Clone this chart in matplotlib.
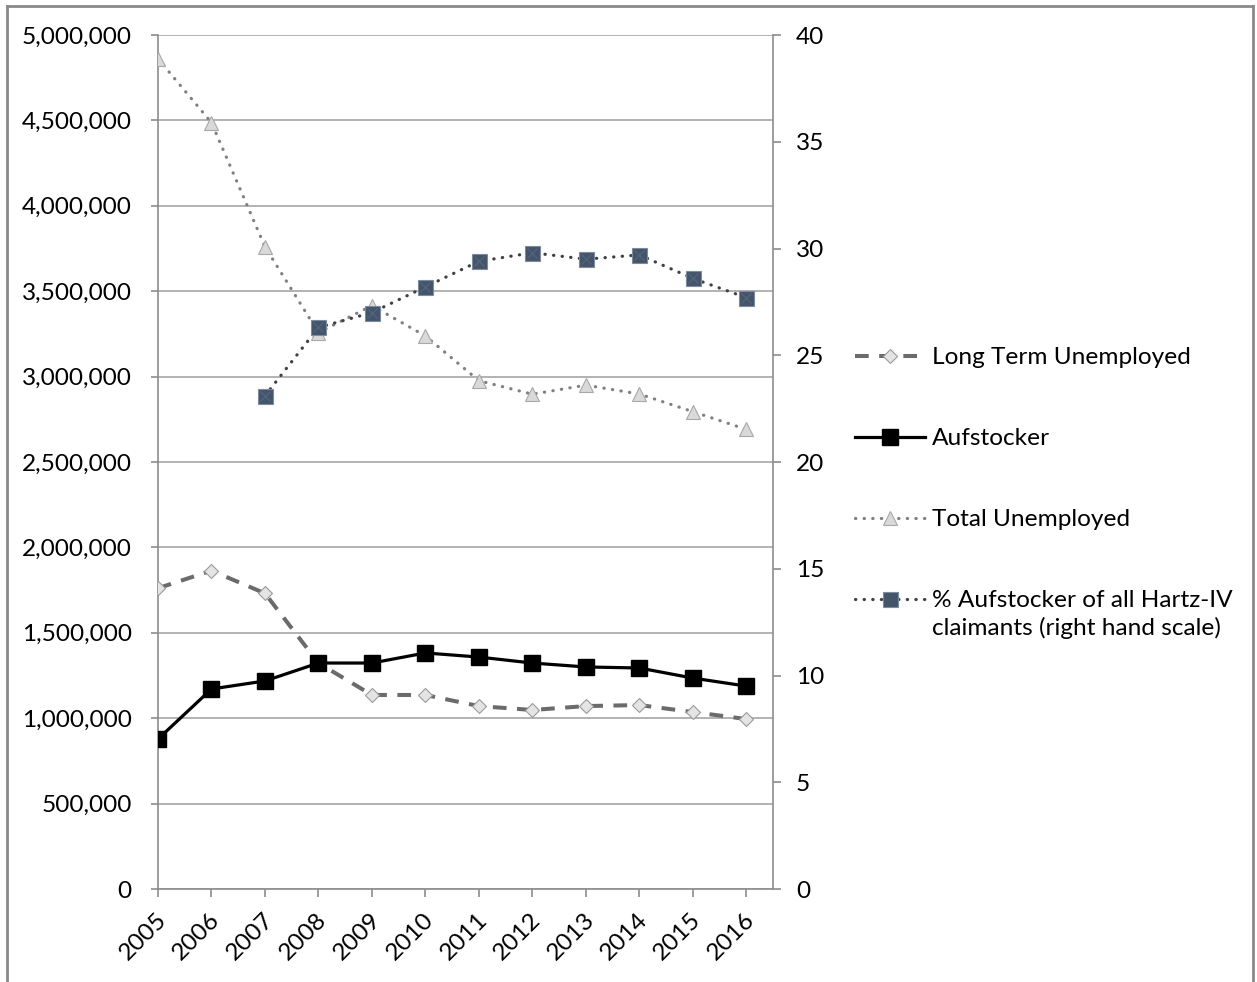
import numpy as np
import matplotlib
matplotlib.use("Agg")
import matplotlib.pyplot as plt
import matplotlib.transforms as mtransforms
from matplotlib.ticker import FuncFormatter, MultipleLocator
from matplotlib.lines import Line2D

# ---- data ----
years = ["2005", "2006", "2007", "2008", "2009", "2010",
         "2011", "2012", "2013", "2014", "2015", "2016"]
long_term_unemployed = [1761000, 1864000, 1731000, 1323000, 1136000, 1136000,
                        1071000, 1048000, 1071000, 1077000, 1036000, 995000]
aufstocker = [878000, 1171000, 1218000, 1323000, 1323000, 1382000,
              1358000, 1323000, 1300000, 1294000, 1235000, 1188000]
total_unemployed = [4861000, 4487000, 3760000, 3258000, 3415000, 3238000,
                    2976000, 2897000, 2950000, 2898000, 2795000, 2691000]
pct_aufstocker = [np.nan, np.nan, 23.1, 26.3, 27.0, 28.2,
                  29.4, 29.8, 29.5, 29.7, 28.6, 27.7]

labels = ["Long Term Unemployed", "Aufstocker", "Total Unemployed",
          "% Aufstocker of all Hartz-IV\nclaimants (right hand scale)"]

# ---- styling ----
plt.rcParams["font.family"] = ["Lato", "DejaVu Sans"]
FS = 17.6
AXIS_GREY = "#8c8c8c"
GRID_GREY = "#a6a6a6"

W, H = 1257, 982
fig = plt.figure(figsize=(W / 100, H / 100), dpi=100)
fig.patch.set_facecolor("white")

left, right, top, bottom = 158, 773, 35, 889
ax = fig.add_axes([left / W, 1 - bottom / H, (right - left) / W, (bottom - top) / H])
ax2 = ax.twinx()

x = np.arange(len(years))

dotted = (0, (0.1, 2.6))

l_ltu, = ax.plot(x, long_term_unemployed, color="#6b6b6b", lw=2.9,
                 linestyle=(0, (3.4, 2.6)), dash_capstyle="butt",
                 marker="D", markersize=7.6, markerfacecolor="#e4e4e4",
                 markeredgecolor="#9a9a9a", markeredgewidth=0.8, zorder=3)
l_auf, = ax.plot(x, aufstocker, color="black", lw=2.3,
                 marker="s", markersize=11, markerfacecolor="black",
                 markeredgecolor="black", zorder=4)
l_tot, = ax.plot(x, total_unemployed, color="#808080", lw=2.3,
                 linestyle=dotted, dash_capstyle="round",
                 marker="^", markersize=10.5, markerfacecolor="#d9d9d9",
                 markeredgecolor="#a8a8a8", markeredgewidth=0.8, zorder=3)
l_pct, = ax2.plot(x, pct_aufstocker, color="#404040", lw=2.3,
                  linestyle=dotted, dash_capstyle="round",
                  marker="s", markersize=10.8, markerfacecolor="#44546a",
                  markeredgecolor="#7d8ba0", markeredgewidth=0.8, zorder=5)
ax2.plot(x, pct_aufstocker, linestyle="none", marker="x", markersize=7.5,
         markeredgecolor="#56667d", markeredgewidth=0.8, zorder=6)

# ---- axes ----
ax.set_xlim(0, 11.5)
ax.set_ylim(0, 5000000)
ax2.set_ylim(0, 40)
ax.yaxis.set_major_locator(MultipleLocator(500000))
ax2.yaxis.set_major_locator(MultipleLocator(5))
ax.yaxis.set_major_formatter(FuncFormatter(lambda v, p: f"{int(round(v)):,}"))
ax2.yaxis.set_major_formatter(FuncFormatter(lambda v, p: f"{int(round(v))}"))

ax.set_xticks(x)
ax.set_xticklabels(years)
ax.grid(axis="y", color=GRID_GREY, lw=1.2)
ax.set_axisbelow(True)

for a in (ax, ax2):
    for s in a.spines.values():
        s.set_visible(False)
ax.spines["left"].set_visible(True)
ax.spines["bottom"].set_visible(True)
ax2.spines["right"].set_visible(True)
for s in (ax.spines["left"], ax.spines["bottom"], ax2.spines["right"]):
    s.set_color(AXIS_GREY)
    s.set_linewidth(1.2)

ax.tick_params(axis="y", direction="out", length=5, width=1.2, color=AXIS_GREY,
               labelsize=FS, pad=14)
ax.tick_params(axis="x", direction="out", length=5.5, width=1.2, color=AXIS_GREY,
               labelsize=FS, pad=4)
ax2.tick_params(axis="y", direction="out", length=5.5, width=1.2, color=AXIS_GREY,
                labelsize=FS, pad=11)

shift = mtransforms.ScaledTranslation(5 / 100, -14 / 100, fig.dpi_scale_trans)
for lab in ax.get_xticklabels():
    lab.set_rotation(45)
    lab.set_ha("right")
    lab.set_va("center")
    lab.set_rotation_mode("anchor")
    lab.set_transform(lab.get_transform() + shift)

# ---- legend ----
leg = fig.legend([l_ltu, l_auf, l_tot, l_pct], labels,
                 loc="upper left", bbox_to_anchor=(855 / W, 1 - 347 / H),
                 frameon=False, fontsize=FS, handlelength=2.85,
                 handletextpad=0.28, labelspacing=2.45,
                 borderpad=0, borderaxespad=0)
leg.texts[-1].set_linespacing(1.32)
last = leg.legend_handles[-1]
last.set_ydata(np.asarray(last.get_ydata()) + 11.3)

# ---- outer frame ----
frame_kw = dict(transform=fig.transFigure, color="#8a8a8a", lw=2)
fig.add_artist(Line2D([7 / W, 1253 / W], [1 - 6 / H, 1 - 6 / H], **frame_kw))
fig.add_artist(Line2D([7 / W, 7 / W], [0, 1 - 6 / H], **frame_kw))
fig.add_artist(Line2D([1253 / W, 1253 / W], [0, 1 - 6 / H], **frame_kw))

fig.savefig("out.png", dpi=100)
